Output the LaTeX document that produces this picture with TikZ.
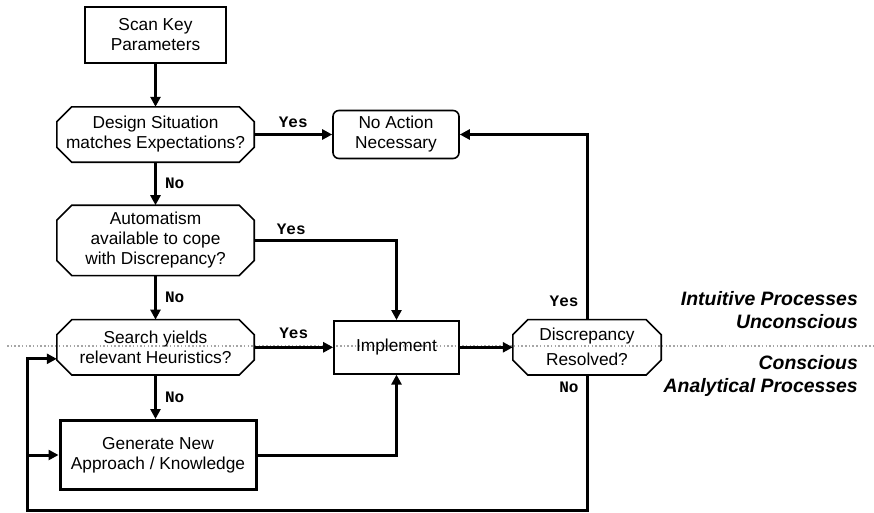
\documentclass[tikz,border=0pt]{standalone}
\usepackage{fontspec}
\setmainfont{Liberation Sans}
\newfontfamily\answerfont{Liberation Mono}
\usetikzlibrary{arrows.meta, positioning}

% octagon frame round a decision node
\newcommand{\octframe}[1]{%
  \draw[line width=1.6pt] ([xshift=15pt]#1.north west) -- ([xshift=-15pt]#1.north east)
    -- ([yshift=-15pt]#1.north east) -- ([yshift=15pt]#1.south east)
    -- ([xshift=-15pt]#1.south east) -- ([xshift=15pt]#1.south west)
    -- ([yshift=15pt]#1.south west) -- ([yshift=-15pt]#1.north west) -- cycle;}

\begin{document}
\begin{tikzpicture}[
    x=1pt, y=-1pt,
    block/.style={draw, rectangle, line width=1.6pt, minimum width=141pt, minimum height=56pt, align=center, font=\fontsize{17.3}{20}\selectfont},
    decision/.style={rectangle, minimum width=197pt, minimum height=55pt, inner sep=1pt, align=center, font=\fontsize{17.3}{20}\selectfont},
    answer/.style={font=\answerfont\bfseries\fontsize{16}{16}\selectfont, inner sep=2pt},
    side/.style={font=\bfseries\itshape\fontsize{19.4}{23}\selectfont, align=right, anchor=east, inner sep=0pt},
    flow/.style={-{Triangle[length=10pt,width=10pt]}, line width=3pt},
    >=Stealth
]
    \useasboundingbox (0,0) rectangle (874,512);

    % Boundary between the two levels
    \draw[gray!70, line width=1.5pt, dash pattern=on 1.5pt off 2.2pt] (7,346) coordinate (lvlA) -- (874,346) coordinate (lvlB);

    % Blocks
    \node[block] (scan) at (155.5,35) {Scan Key\\Parameters};
    \node[decision, below=43pt of scan] (design) {Design Situation\\matches Expectations?};
    \node[decision, below=43pt of design, minimum height=70pt] (automat) {Automatism\\available to cope\\with Discrepancy?};
    \node[decision, below=44pt of automat] (search) {Search yields\\relevant Heuristics?};
    \node[block, below=44pt of search, xshift=2.5pt, minimum width=196pt, minimum height=69pt, line width=3pt] (generate) {Generate New\\Approach / Knowledge};

    \node[block, right=78pt of design, rounded corners=6pt, minimum width=126pt, minimum height=48pt] (noaction) {No Action\\Necessary};
    \node[block, right=79pt of search, minimum width=125pt, minimum height=53pt] (implement) {Implement};
    \node[decision, right=53pt of implement, minimum width=148pt, font=\fontsize{17.3}{25}\selectfont] (resolved) {Discrepancy\\Resolved?};

    \octframe{design}
    \octframe{automat}
    \octframe{search}
    \octframe{resolved}

    % Connections
    \draw[flow] (scan) -- (design);
    \draw[flow] (design) -- node[answer, above=3pt] {Yes} (noaction);
    \draw[flow] (design) -- node[answer, right=6pt] {No} (automat);
    \draw[flow] (automat.east) -| node[answer, above=2pt, pos=0.13] {Yes} (implement.north);
    \draw[flow] (automat) -- node[answer, right=6pt] {No} (search);
    \draw[flow] (search) -- node[answer, above=5pt] {Yes} (implement);
    \draw[flow] (search) -- node[answer, right=6pt] {No} (search |- generate.north);
    \draw[flow] (generate.east) -| (implement.south);
    \draw[flow] (implement) -- (resolved);

    % Feedback
    \coordinate (back) at (27,510);
    \draw[flow] (resolved.north) |- node[answer, left=5pt, pos=0.05] {Yes} (noaction.east);
    \draw[flow] (resolved.south) |- node[answer, left=5pt, pos=0.045] {No} (back) |- ([yshift=-11.5pt]search.west);
    \draw[flow] (back) |- (generate.west);

    % Labels
    \node[side] (upper) at (858,310.5) {Intuitive Processes\\Unconscious};
    \node[side] (lower) at (858,375.5) {Conscious\\Analytical Processes};
\end{tikzpicture}
\end{document}
